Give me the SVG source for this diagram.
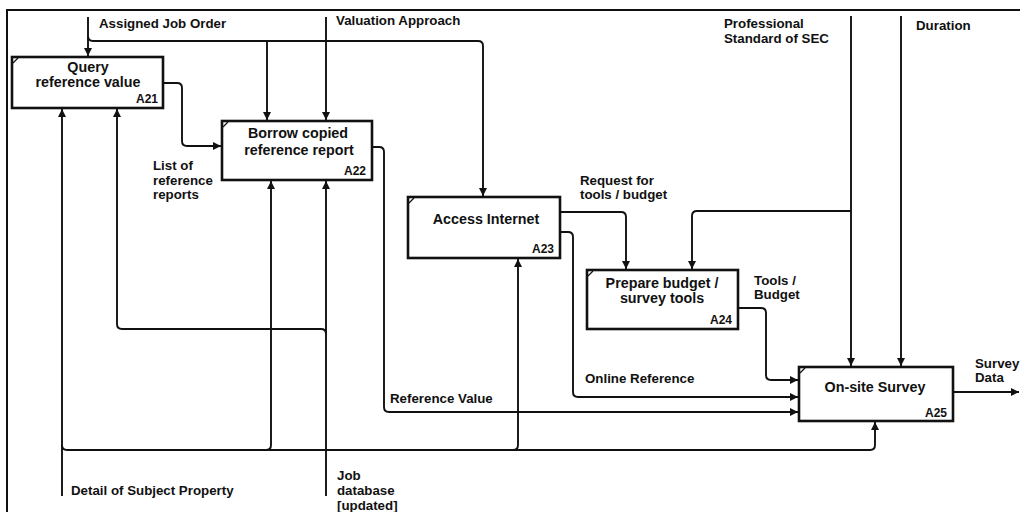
<svg xmlns="http://www.w3.org/2000/svg" width="1020" height="512" viewBox="0 0 1020 512">
  <style>
    .frame { fill: none; stroke: #111; stroke-width: 2; }
    .box { fill: #fff; stroke: #111; stroke-width: 2.6; }
    .tab { fill: none; stroke: #111; stroke-width: 1.2; }
    .flow { fill: none; stroke: #111; stroke-width: 1.9; }
    .title { font-family: "Liberation Sans", Arial, sans-serif; font-weight: bold; font-size: 14.3px; fill: #111; text-anchor: middle; }
    .num { font-family: "Liberation Sans", Arial, sans-serif; font-weight: bold; font-size: 12px; fill: #111; text-anchor: end; }
    .lbl { font-family: "Liberation Sans", Arial, sans-serif; font-weight: bold; font-size: 13.3px; fill: #111; }
  </style>
  <defs>
    <marker id="arrow" markerUnits="userSpaceOnUse" markerWidth="9" markerHeight="9" refX="8" refY="4" orient="auto">
      <path d="M0,0 L8,4 L0,8 Z" fill="#111"/>
    </marker>
  </defs>

  <rect width="1020" height="512" fill="#fff"/>

  <!-- diagram frame -->
  <path class="frame" d="M7,512 V10 H1020"/>

  <!-- connectors -->
  <g id="connectors" class="flow">
    <!-- Assigned Job Order -->
    <path d="M88,17 V56" marker-end="url(#arrow)"/>
    <path d="M88,36 Q88,41 93,41 H478 Q483,41 483,46 V196" marker-end="url(#arrow)"/>
    <path d="M267,41 V120" marker-end="url(#arrow)"/>
    <!-- Valuation Approach -->
    <path d="M326,17 V120" marker-end="url(#arrow)"/>
    <!-- Professional Standard of SEC -->
    <path d="M851,16 V366" marker-end="url(#arrow)"/>
    <path d="M851,211 H697 Q692,211 692,216 V269" marker-end="url(#arrow)"/>
    <!-- Duration -->
    <path d="M901,16 V366" marker-end="url(#arrow)"/>
    <!-- List of reference reports -->
    <path d="M163,83 H177 Q182,83 182,88 V141 Q182,146 187,146 H221" marker-end="url(#arrow)"/>
    <!-- Reference Value -->
    <path d="M372,147 H379 Q384,147 384,152 V407 Q384,412 389,412 H798" marker-end="url(#arrow)"/>
    <!-- Request for tools / budget -->
    <path d="M560,212 H621 Q626,212 626,217 V269" marker-end="url(#arrow)"/>
    <!-- Online Reference -->
    <path d="M560,232 H568 Q573,232 573,237 V392 Q573,397 578,397 H798" marker-end="url(#arrow)"/>
    <!-- Tools / Budget -->
    <path d="M738,308 H761 Q766,308 766,313 V375 Q766,380 771,380 H798" marker-end="url(#arrow)"/>
    <!-- Survey Data -->
    <path d="M953,392 H1019" marker-end="url(#arrow)"/>
    <!-- Detail of Subject Property -->
    <path d="M62,496 V109" marker-end="url(#arrow)"/>
    <path d="M62,445 Q62,450 67,450 H870 Q875,450 875,445 V422" marker-end="url(#arrow)"/>
    <path d="M266,450 Q271,450 271,445 V181" marker-end="url(#arrow)"/>
    <path d="M513,450 Q518,450 518,445 V259" marker-end="url(#arrow)"/>
    <!-- Job database [updated] -->
    <path d="M326,496 V181" marker-end="url(#arrow)"/>
    <path d="M326,334 Q326,329 321,329 H122 Q117,329 117,324 V109" marker-end="url(#arrow)"/>
  </g>

  <!-- activity boxes -->
  <g id="A21">
    <rect class="box" x="12" y="57" width="151" height="51"/>
    <path class="tab" d="M13,63 L18,58"/>
    <text class="title" x="88" y="72">Query</text>
    <text class="title" x="88" y="87">reference value</text>
    <text class="num" x="158" y="103">A21</text>
  </g>
  <g id="A22">
    <rect class="box" x="222" y="121" width="150" height="59"/>
    <path class="tab" d="M223,127 L228,122"/>
    <text class="title" x="298" y="138">Borrow copied</text>
    <text class="title" x="299" y="155">reference report</text>
    <text class="num" x="366" y="175">A22</text>
  </g>
  <g id="A23">
    <rect class="box" x="408" y="197" width="152" height="61"/>
    <path class="tab" d="M409,203 L414,198"/>
    <text class="title" x="486" y="224">Access Internet</text>
    <text class="num" x="554" y="253">A23</text>
  </g>
  <g id="A24">
    <rect class="box" x="587" y="270" width="151" height="59"/>
    <path class="tab" d="M588,276 L593,271"/>
    <text class="title" x="662" y="288">Prepare budget /</text>
    <text class="title" x="662" y="303">survey tools</text>
    <text class="num" x="732" y="324">A24</text>
  </g>
  <g id="A25">
    <rect class="box" x="799" y="367" width="154" height="54"/>
    <path class="tab" d="M800,373 L805,368"/>
    <text class="title" x="875" y="392">On-site Survey</text>
    <text class="num" x="947" y="417">A25</text>
  </g>

  <!-- arrow labels -->
  <g id="labels" class="lbl">
    <text x="99" y="28">Assigned Job Order</text>
    <text x="336" y="25">Valuation Approach</text>
    <text x="724" y="28">Professional</text>
    <text x="724" y="43">Standard of SEC</text>
    <text x="916" y="30">Duration</text>
    <text x="153" y="170">List of</text>
    <text x="153" y="185">reference</text>
    <text x="153" y="199">reports</text>
    <text x="580" y="185">Request for</text>
    <text x="580" y="199">tools / budget</text>
    <text x="754" y="285">Tools /</text>
    <text x="754" y="299">Budget</text>
    <text x="585" y="383">Online Reference</text>
    <text x="390" y="403">Reference Value</text>
    <text x="975" y="368">Survey</text>
    <text x="975" y="382">Data</text>
    <text x="71" y="495">Detail of Subject Property</text>
    <text x="337" y="480">Job</text>
    <text x="337" y="495">database</text>
    <text x="337" y="510">[updated]</text>
  </g>
</svg>
